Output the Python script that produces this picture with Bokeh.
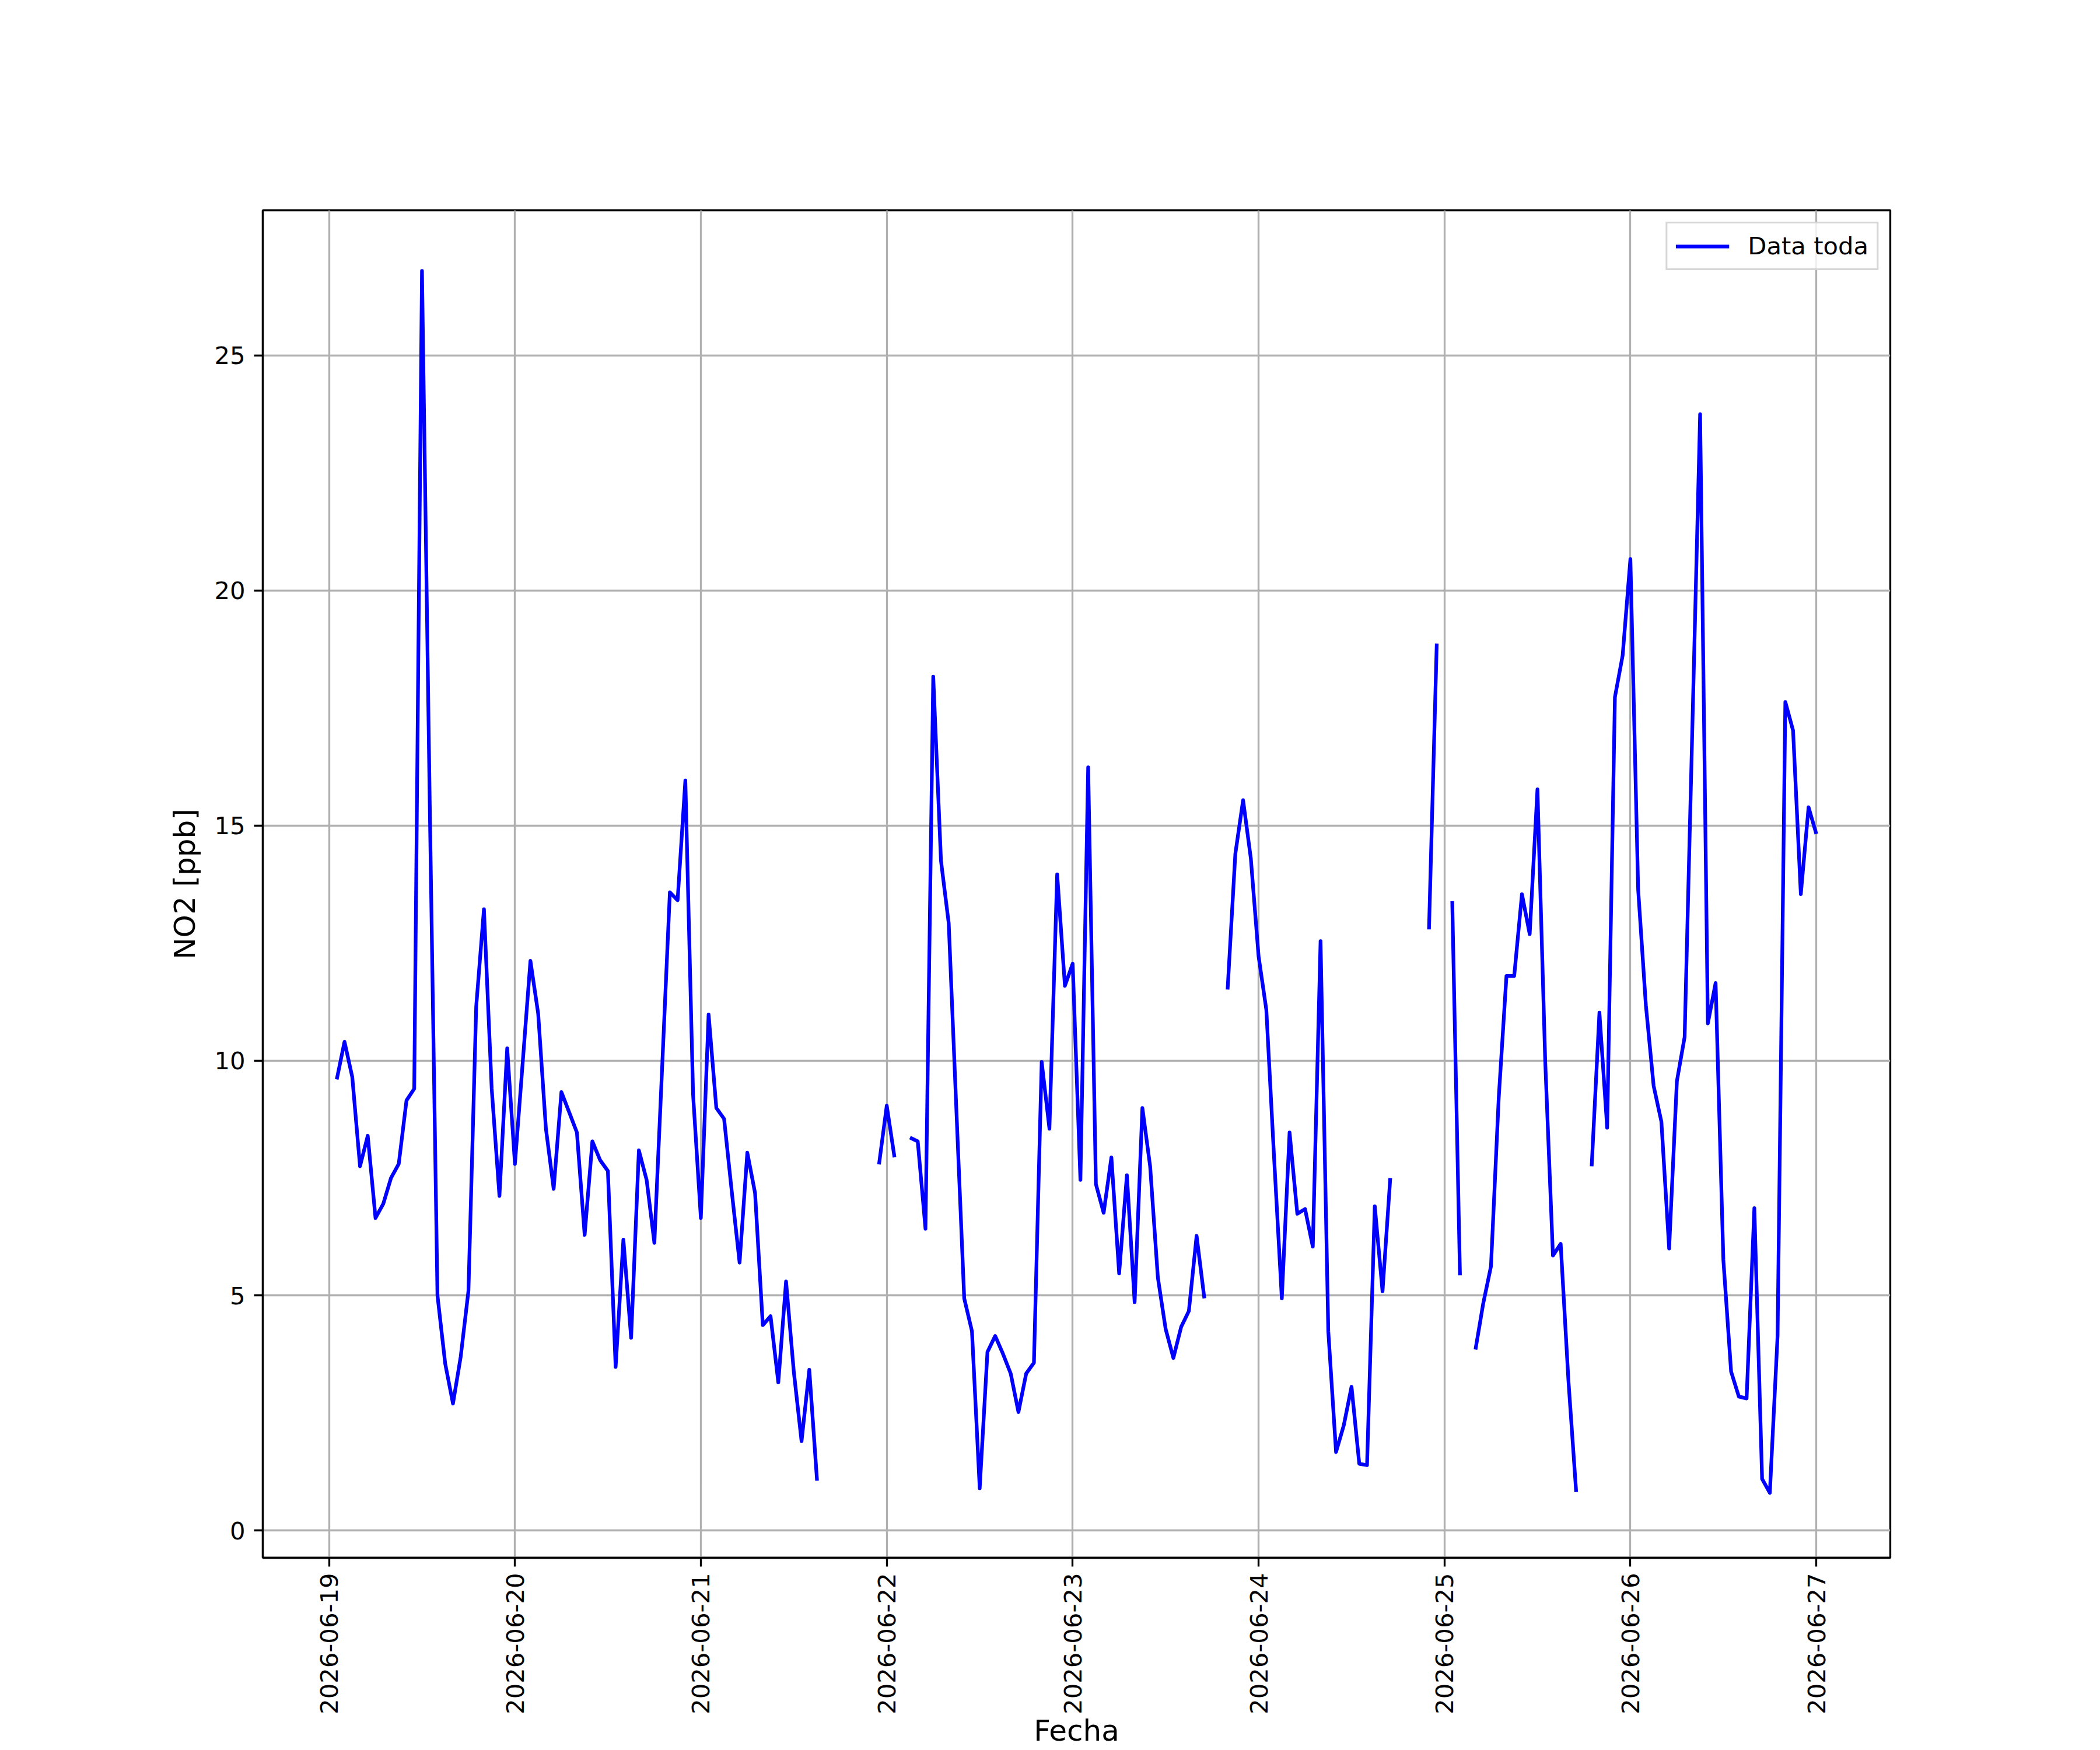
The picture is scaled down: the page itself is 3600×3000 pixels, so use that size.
import math
import numpy as np
import pandas as pd
from bokeh.plotting import figure
from bokeh.models import ColumnDataSource, Range1d, FixedTicker, DatetimeTickFormatter
from bokeh.embed import file_html
from bokeh.resources import INLINE

nan = float("nan")

# Hourly NO2 [ppb], 2026-06-19 01:00 ... 2026-06-27 00:00 (24 values per block)
day_19 = [9.6, 10.4, 9.65, 7.75, 8.4, 6.65, 6.95, 7.5, 7.8, 9.15, 9.4, 26.8,
          15.5, 5.0, 3.55, 2.7, 3.7, 5.1, 11.15, 13.22, 9.4, 7.12, 10.26, 7.8]
day_20 = [9.95, 12.12, 11.0, 8.55, 7.27, 9.33, 8.9, 8.47, 6.29, 8.28, 7.88, 7.65,
          3.48, 6.19, 4.1, 8.09, 7.46, 6.12, 9.84, 13.58, 13.41, 15.96, 9.27, 6.65]
day_21 = [10.98, 8.99, 8.76, 7.2, 5.7, 8.04, 7.18, 4.37, 4.56, 3.15, 5.3, 3.38,
          1.9, 3.42, 1.06, nan, nan, nan, nan, nan, nan, nan, 7.79, 9.04]
day_22 = [7.94, nan, 8.36, 8.28, 6.42, 18.17, 14.25, 12.92, 8.9, 4.94, 4.24, 0.9,
          3.8, 4.14, 3.76, 3.34, 2.52, 3.34, 3.57, 9.97, 8.55, 13.96, 11.59, 12.06]
day_23 = [7.46, 16.24, 7.37, 6.76, 7.94, 5.47, 7.56, 4.86, 8.99, 7.75, 5.38, 4.29,
          3.67, 4.33, 4.67, 6.27, 4.94, nan, nan, 11.51, 14.4, 15.54, 14.3, 12.22]
day_24 = [11.08, 7.94, 4.94, 8.47, 6.74, 6.84, 6.04, 12.54, 4.24, 1.67, 2.24, 3.06,
          1.42, 1.39, 6.9, 5.09, 7.5, nan, nan, nan, nan, 12.79, 18.87, nan]
day_25 = [13.39, 5.43, nan, 3.85, 4.83, 5.62, 9.2, 11.8, 11.8, 13.54, 12.69, 15.77,
          10.0, 5.85, 6.1, 3.19, 0.82, nan, 7.75, 11.02, 8.57, 17.73, 18.62, 20.67]
day_26 = [13.64, 11.17, 9.46, 8.7, 6.0, 9.56, 10.5, 17.1, 23.75, 10.79, 11.65, 5.76,
          3.38, 2.85, 2.81, 6.86, 1.1, 0.8, 4.14, 17.63, 17.02, 13.54, 15.39, 14.82]

x_tick_labels = ["2026-06-19", "2026-06-20", "2026-06-21", "2026-06-22", "2026-06-23",
                 "2026-06-24", "2026-06-25", "2026-06-26", "2026-06-27"]
y_ticks = [0, 5, 10, 15, 20, 25]

no2 = np.array(day_19 + day_20 + day_21 + day_22 + day_23 + day_24 + day_25 + day_26, dtype=float)
times = pd.date_range("2026-06-19 01:00", periods=len(no2), freq="h")
t_ms = times.values.astype("datetime64[ms]").astype(np.int64).astype(float)

src = ColumnDataSource(data=dict(t=t_ms, v=no2))

pad = 0.05 * (t_ms[-1] - t_ms[0])
x_range = Range1d(t_ms[0] - pad, t_ms[-1] + pad)
y_range = Range1d(-0.58, 28.09)

FONT = "DejaVu Sans"
FS = "41.7px"
FS_LABEL = "50px"

p = figure(width=3592, height=3000, x_axis_type="datetime",
           x_range=x_range, y_range=y_range,
           output_backend="svg", toolbar_location=None,
           min_border_left=450, min_border_right=352,
           min_border_top=360, min_border_bottom=330,
           background_fill_color="white", border_fill_color="white")

p.line(x="t", y="v", source=src, line_color="#0000ff", line_width=6.25,
       line_join="round", legend_label="Data toda")

tick_ms = [pd.Timestamp(s).value / 1e6 for s in x_tick_labels]
p.xaxis.ticker = FixedTicker(ticks=tick_ms)
fmt = "%Y-%m-%d"
p.xaxis.formatter = DatetimeTickFormatter(milliseconds=fmt, seconds=fmt, minsec=fmt,
                                          minutes=fmt, hourmin=fmt, hours=fmt,
                                          days=fmt, months=fmt, years=fmt)
p.yaxis.ticker = FixedTicker(ticks=y_ticks)

for ax in (p.xaxis[0], p.yaxis[0]):
    ax.axis_line_color = "black"
    ax.axis_line_width = 3.3
    ax.major_tick_line_color = "black"
    ax.major_tick_line_width = 3.3
    ax.major_tick_in = 0
    ax.major_tick_out = 15
    ax.minor_tick_line_color = None
    ax.major_label_text_font = FONT
    ax.major_label_text_font_size = FS
    ax.major_label_text_color = "black"
    ax.axis_label_text_font = FONT
    ax.axis_label_text_font_size = FS_LABEL
    ax.axis_label_text_font_style = "normal"
    ax.axis_label_text_color = "black"

p.xaxis.axis_label = "Fecha"
p.yaxis.axis_label = "NO2 [ppb]"
p.xaxis.major_label_orientation = math.pi / 2
p.xaxis.major_label_standoff = 11
p.xaxis.axis_label_standoff = -4
p.yaxis.major_label_standoff = 15
p.yaxis.axis_label_standoff = 18

p.grid.grid_line_color = "#b0b0b0"
p.grid.grid_line_width = 3.3
p.xgrid.ticker = p.xaxis.ticker
p.ygrid.ticker = p.yaxis.ticker

p.outline_line_color = "black"
p.outline_line_width = 3.3
p.outline_line_alpha = 1.0

lg = p.legend[0]
lg.location = "top_right"
lg.label_text_font = FONT
lg.label_text_font_size = FS
lg.label_text_color = "black"
lg.border_line_color = "#cccccc"
lg.border_line_width = 3.3
lg.border_line_alpha = 0.8
lg.background_fill_alpha = 0.8
lg.margin = 20
lg.padding = 14
lg.glyph_width = 92
lg.glyph_height = 40
lg.label_standoff = 32
lg.spacing = 0

open("out.html", "w").write(file_html(p, INLINE))
